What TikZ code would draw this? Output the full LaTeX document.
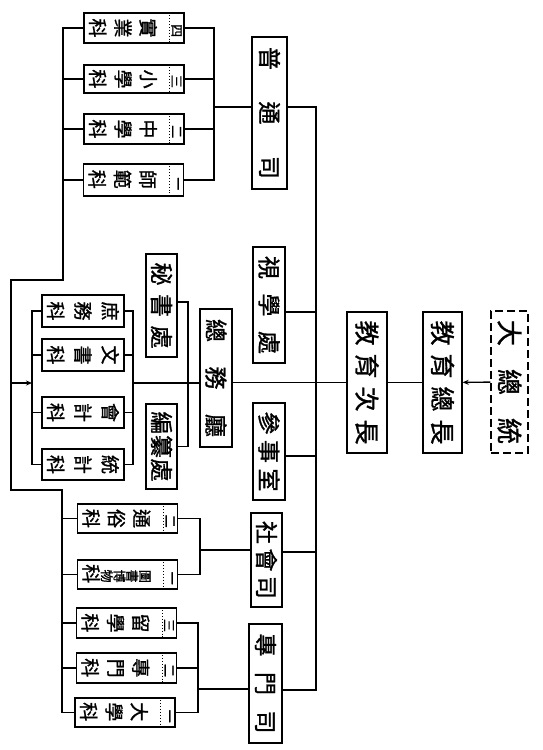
\documentclass[tikz,border=0pt]{standalone}
\usepackage{fontspec}
\setmainfont{Noto Sans CJK TC}[FakeBold=1.2]
\usetikzlibrary{arrows.meta}
\newcommand\rc[1]{\rotatebox[origin=c]{-90}{#1}}
\newcommand\vtxt[2]{\rotatebox{-90}{\makebox[#1][s]{#2}}}
\newcommand\ketxt[2]{\hspace{4pt}\makebox[68pt][s]{#1}\hspace{13pt}\makebox[13pt]{\fontsize{13pt}{13pt}\selectfont\rc{#2}}}
\tikzset{
  ln/.style={line width=1.4pt},
  ln2/.style={line width=1.8pt},
  mbox/.style={draw, line width=1.3pt, inner sep=0pt, font=\fontsize{23pt}{23pt}\selectfont},
  sbox/.style={draw, line width=1.2pt, inner sep=0pt, minimum width=100pt, minimum height=30pt, font=\fontsize{19pt}{19pt}\selectfont},
  zbox/.style={draw, line width=1.2pt, inner sep=0pt, minimum width=82pt, minimum height=32pt, font=\fontsize{19pt}{19pt}\selectfont},
  sep/.style={dotted, line width=0.9pt},
  tip/.style={-{Stealth[length=6pt,width=5pt]}}
}
\begin{document}
\begin{tikzpicture}[x=1pt,y=-1pt]
\useasboundingbox (0,0) rectangle (543,750);
\fill[white] (0,0) rectangle (543,750);
% main boxes
\node[mbox, dashed, dash pattern=on 8pt off 4pt, minimum width=37pt, minimum height=142pt, font=\fontsize{26pt}{26pt}\selectfont] (dzt) at (509.5,382) {\vtxt{124pt}{大\hfill 總\hfill 統}};
\node[mbox, minimum width=39pt, minimum height=141pt, font=\fontsize{25pt}{25pt}\selectfont] (zz) at (442.5,382.5) {\vtxt{124pt}{教\hfill 育\hfill 總\hfill 長}};
\node[mbox, minimum width=40pt, minimum height=141pt, font=\fontsize{25pt}{25pt}\selectfont] (cz) at (367,382.5) {\vtxt{124pt}{教\hfill 育\hfill 次\hfill 長}};
\node[mbox, minimum width=32pt, minimum height=138pt] (zw) at (216,378) {\vtxt{118pt}{總\hfill 務\hfill 廳}};
\node[mbox, minimum width=32pt, minimum height=116pt] (sx) at (269,305) {\vtxt{98pt}{視\hfill 學\hfill 處}};
\node[mbox, minimum width=32pt, minimum height=97pt] (cs) at (269,451.5) {\vtxt{80pt}{參\hfill 事\hfill 室}};
\node[mbox, minimum width=31pt, minimum height=103pt] (ms) at (161.5,305.5) {\vtxt{86pt}{秘\hfill 書\hfill 處}};
\node[mbox, minimum width=31pt, minimum height=85pt] (bz) at (161.5,446.5) {\vtxt{70pt}{編\hfill 纂\hfill 處}};
\node[mbox, minimum width=35pt, minimum height=152pt] (pt) at (269.5,113) {\vtxt{132pt}{普\hfill 通\hfill 司}};
\node[mbox, minimum width=31pt, minimum height=94pt] (sh) at (266.5,560) {\vtxt{78pt}{社\hfill 會\hfill 司}};
\node[mbox, minimum width=33pt, minimum height=119pt] (zm) at (265.5,683.5) {\vtxt{100pt}{專\hfill 門\hfill 司}};
% sub boxes of 普通司
\node[sbox] (k4) at (134,28) {\ketxt{\rc{科}\hfill\rc{業}\hfill\rc{實}}{四}};
\node[sbox, minimum height=28pt] (k3) at (134,79) {\ketxt{\rc{科}\hfill\rc{學}\hfill\rc{小}}{三}};
\node[sbox] (k2) at (134,129) {\ketxt{\rc{科}\hfill\rc{學}\hfill\rc{中}}{二}};
\node[sbox, minimum height=32pt] (k1) at (133.5,180) {\ketxt{\rc{科}\hfill\rc{範}\hfill\rc{師}}{一}};
% sub boxes of 社會司
\node[sbox, minimum height=29pt] (s2) at (127.5,518.5) {\ketxt{\rc{科}\hfill\rc{俗}\hfill\rc{通}}{二}};
\node[sbox, minimum height=29pt] (s1) at (127.5,574.5) {\ketxt{\rc{科}\hfill{\fontsize{13pt}{13pt}\selectfont\rc{物}\hfill\rc{博}\hfill\rc{書}\hfill\rc{圖}}}{一}};
% sub boxes of 專門司
\node[sbox] (m3) at (126.5,623) {\ketxt{\rc{科}\hfill\rc{學}\hfill\rc{留}}{三}};
\node[sbox] (m2) at (126.5,668) {\ketxt{\rc{科}\hfill\rc{門}\hfill\rc{專}}{二}};
\node[sbox, minimum height=29pt] (m1) at (125,712.5) {\ketxt{\rc{科}\hfill\rc{學}\hfill\rc{大}}{一}};
% sub boxes of 總務廳
\node[zbox] (z1) at (83,311) {\makebox[72pt][s]{\rc{科}\hfill\rc{務}\hfill\rc{庶}}};
\node[zbox] (z2) at (83,355) {\makebox[72pt][s]{\rc{科}\hfill\rc{書}\hfill\rc{文}}};
\node[zbox, minimum height=31pt] (z3) at (83,412.5) {\makebox[72pt][s]{\rc{科}\hfill\rc{計}\hfill\rc{會}}};
\node[zbox, minimum height=31pt] (z4) at (83,464.5) {\makebox[72pt][s]{\rc{科}\hfill\rc{計}\hfill\rc{統}}};
% dotted separators
\foreach \n in {k4,k3,k2,k1,s2,s1,m3,m2,m1}
  \draw[sep] ([xshift=-15pt]\n.north east) -- ([xshift=-15pt]\n.south east);
% coordinates
\coordinate (bT) at (316,107);
\coordinate (bB) at (316,690);
\coordinate (pR) at (214,107);
\coordinate (zR) at (133,383);
\coordinate (zL) at (32,383);
\coordinate (mR) at (188,302);
\coordinate (sR) at (200,550);
\coordinate (mmR) at (198,689);
\coordinate (o1) at (63,280);
\coordinate (o2) at (11,280);
\coordinate (o3) at (11,490);
\coordinate (o4) at (62,490);
% top chain
\draw[ln, tip] (dzt) -- (zz);
\draw[ln] (zz) -- (cz);
\draw[ln] (cz.west) -- (zw.east |- cz.west);
% main bus
\draw[ln] (pt.east |- bT) -- (bT) -- (bB) -- (zm.east |- bB);
\draw[ln] ([yshift=-7pt]sx.east) -- ([yshift=-7pt]sx.east -| bT);
\draw[ln] ([yshift=-4.5pt]cs.east) -- ([yshift=-4.5pt]cs.east -| bT);
\draw[ln] ([yshift=8pt]sh.east) -- ([yshift=8pt]sh.east -| bT);
% 普通司 branch
\draw[ln] (pt.west |- pR) -- (pR);
\draw[ln] (k4.east) -- (k4.east -| pR) -- (k1.east -| pR) -- (k1.east);
\draw[ln] (k3.east) -- (k3.east -| pR);
\draw[ln] (k2.east) -- (k2.east -| pR);
% 總務廳 branch
\draw[ln] (zw.west |- zR) -- (zR);
\draw[ln] (z1.east) -- (z1.east -| zR) -- (z4.east -| zR) -- (z4.east);
\draw[ln] (z2.east) -- (z2.east -| zR);
\draw[ln] (z3.east) -- (z3.east -| zR);
\draw[ln] (ms.east |- mR) -- (mR) -- (bz.east -| mR) -- (bz.east);
\draw[ln] (z1.west) -- (z1.west -| zL) -- (z4.west -| zL) -- (z4.west);
\draw[ln] (z2.west) -- (z2.west -| zL);
\draw[ln] (z3.west) -- (z3.west -| zL);
% 社會司 branch
\draw[ln] (sh.west |- sR) -- (sR);
\draw[ln] (s2.east) -- (s2.east -| sR) -- (s1.east -| sR) -- (s1.east);
% 專門司 branch
\draw[ln] (zm.west |- mmR) -- (mmR);
\draw[ln] (m3.east) -- (m3.east -| mmR) -- (m1.east -| mmR) -- (m1.east);
\draw[ln] (m2.east) -- (m2.east -| mmR);
% outer left bus
\draw[ln2] (k4.west) -- (k4.west -| o1) -- (o1) -- (o2) -- (o3) -- (o4) -- (m1.west -| o4) -- (m1.west);
\foreach \n in {k3,k2,k1}
  \draw[ln] (\n.west) -- (\n.west -| o1);
\foreach \n in {s2,s1,m3,m2}
  \draw[ln] (\n.west) -- (\n.west -| o4);
\draw[ln, tip] (o2 |- zL) -- (zL);
\end{tikzpicture}
\end{document}
